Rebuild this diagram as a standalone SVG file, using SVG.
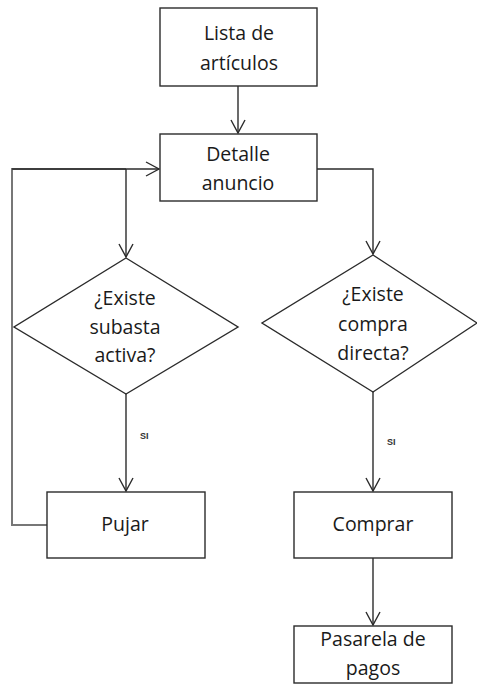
<svg xmlns="http://www.w3.org/2000/svg" width="477" height="684" viewBox="0 0 477 684">
<style>
.box{fill:#fff;stroke:#2b2b2b;stroke-width:1.4}
.t{font-family:"Open Sans","Liberation Sans",sans-serif;font-size:19.5px;fill:#1a1a1a;text-anchor:middle}
.si{font-family:"Liberation Sans",sans-serif;font-size:9px;font-weight:bold;fill:#333}
.c{fill:none;stroke:#2b2b2b;stroke-width:1.4}
.g{fill:none;stroke:#777;stroke-width:2}
</style>
<defs>
<marker id="a" markerWidth="16" markerHeight="16" viewBox="-14 -8 16 16" refX="0" refY="0" orient="auto" markerUnits="userSpaceOnUse">
<path d="M-13,-7 L0,0 L-13,7" fill="none" stroke="#2b2b2b" stroke-width="1.4"/>
</marker>
</defs>
<rect width="477" height="684" fill="#fff"/>
<g id="connectors">
<path class="c" d="M238,86 V133" marker-end="url(#a)"/>
<path class="g" d="M47,525 H12 V169 H126"/>
<path class="c" d="M12,169 H159" marker-end="url(#a)"/>
<path class="c" d="M126,169 V257" marker-end="url(#a)"/>
<path class="c" d="M317,169 H373 V254" marker-end="url(#a)"/>
<path class="c" d="M126,394 V491" marker-end="url(#a)"/>
<path class="c" d="M373,392 V491" marker-end="url(#a)"/>
<path class="c" d="M373,558 V625" marker-end="url(#a)"/>
<text class="si" x="140" y="439">SI</text>
<text class="si" x="387" y="445">SI</text>
</g>
<g id="lista">
<rect class="box" x="160" y="8" width="157" height="78"/>
<text class="t" x="239" y="40">Lista de</text>
<text class="t" x="239" y="70">artículos</text>
</g>
<g id="detalle">
<rect class="box" x="160" y="134" width="157" height="67"/>
<text class="t" x="238" y="161">Detalle</text>
<text class="t" x="238" y="190">anuncio</text>
</g>
<g id="subasta">
<polygon class="box" points="126,258 238,327 126,394 14,327"/>
<text class="t" x="125" y="305">¿Existe</text>
<text class="t" x="125" y="334">subasta</text>
<text class="t" x="125" y="362">activa?</text>
</g>
<g id="compra">
<polygon class="box" points="373,255 477,323 373,392 262,323"/>
<text class="t" x="373" y="301">¿Existe</text>
<text class="t" x="373" y="331">compra</text>
<text class="t" x="373" y="360">directa?</text>
</g>
<g id="pujar">
<rect class="box" x="47" y="492" width="158" height="66"/>
<text class="t" x="125" y="531">Pujar</text>
</g>
<g id="comprar">
<rect class="box" x="294" y="492" width="158" height="66"/>
<text class="t" x="373" y="531">Comprar</text>
</g>
<g id="pasarela">
<rect class="box" x="294" y="626" width="158" height="57"/>
<text class="t" x="373" y="646">Pasarela de</text>
<text class="t" x="373" y="675">pagos</text>
</g>
</svg>
